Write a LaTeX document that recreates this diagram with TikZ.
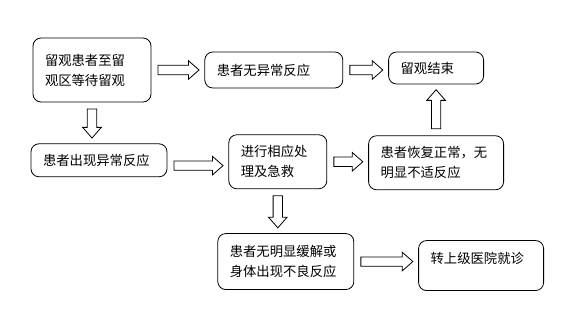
\documentclass[tikz,border=0pt]{standalone}
\usepackage{fontspec}
\setmainfont{Noto Sans CJK SC}
\usepackage{tikz}
\usetikzlibrary{positioning,calc}

\begin{document}
\begin{tikzpicture}[
  box/.style={draw, rounded corners=6pt, align=left, inner xsep=9pt, line width=0.6pt,
    font=\fontsize{10pt}{15pt}\selectfont},
  blk/.style={draw, fill=white, line width=0.6pt, to path={
    let \p1=($(\tikztostart)!5pt!(\tikztotarget)$),
        \p2=($(\tikztotarget)!4pt!(\tikztostart)$),
        \p3=($(\p2)!8pt!(\p1)$) in
    ($(\p1)!3.5pt!90:(\p2)$) -- ($(\p3)!3.5pt!-90:(\p1)$) -- ($(\p3)!7pt!-90:(\p1)$)
    -- (\p2) -- ($(\p3)!7pt!90:(\p1)$) -- ($(\p3)!3.5pt!90:(\p1)$)
    -- ($(\p1)!3.5pt!-90:(\p2)$) -- cycle}}]

  \useasboundingbox (0,0) rectangle (428.25pt,-243pt);

  \node[box, minimum width=88.5pt, minimum height=48pt, text width=70.5pt] (wait) at (69pt,-52.5pt) {留观患者至留\\观区等待留观};
  \node[box, right=39.75pt of wait, minimum width=103.5pt, minimum height=27pt, text width=85.5pt] (normal) {患者无异常反应};
  \node[box, right=33.75pt of normal, yshift=1.5pt, minimum width=71.25pt, minimum height=24pt, text width=53.25pt] (finish) {留观结束};
  \node[box, below=30.75pt of wait, xshift=5.25pt, minimum width=102pt, minimum height=24.75pt, text width=84pt] (abn) {患者出现异常反应};
  \node[box, right=45.75pt of abn, yshift=-1.1pt, minimum width=73.5pt, minimum height=40.5pt, text width=55.5pt] (treat) {进行相应处\\理及急救};
  \node[box, right=30.75pt of treat, yshift=-0.75pt, minimum width=101.25pt, minimum height=40.5pt, text width=83.25pt] (recover) {患者恢复正常，无\\明显不适反应};
  \node[box, below=33pt of treat, xshift=6pt, minimum width=102pt, minimum height=42pt, text width=84pt] (worse) {患者无明显缓解或\\身体出现不良反应};
  \node[box, right=48pt of worse, yshift=-3pt, minimum width=93.75pt, minimum height=37.5pt, text width=75.75pt, text depth=11pt] (transfer) {转上级医院就诊};

  \draw[blk] (wait.east) to (wait.east -| normal.west);
  \draw[blk] (normal.east) to (normal.east -| finish.west);
  \draw[blk] (recover.north) to (recover.north |- finish.south);
  \draw[blk] (wait.south) to (wait.south |- abn.north);
  \coordinate (abnout) at ([yshift=-4pt]abn.east);
  \draw[blk] (abnout) to (abnout -| treat.west);
  \draw[blk] (treat.east) to (treat.east -| recover.west);
  \draw[blk] (treat.south) to (treat.south |- worse.north);
  \draw[blk] (worse.east) to (worse.east -| transfer.west);
\end{tikzpicture}
\end{document}
